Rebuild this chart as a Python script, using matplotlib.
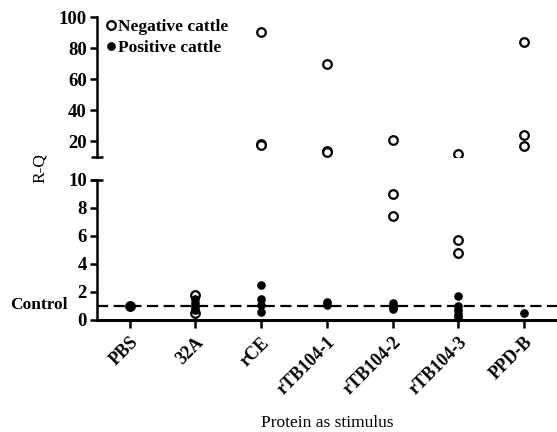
import numpy as np
import matplotlib
matplotlib.use("Agg")
from matplotlib import pyplot as plt

plt.rcParams['font.family'] = ['Liberation Serif', 'DejaVu Serif']

# proteins used as stimulus
proteins = ['PBS', '32A', 'rCE', 'rTB104-1', 'rTB104-2', 'rTB104-3', 'PPD-B']

# R-Q values, per protein
neg_vals = [[1.0], [1.8, 0.5], [90.5, 18.5, 17.5], [70, 14, 13],
            [21, 9.0, 7.4], [12, 5.7, 4.8], [84, 24, 17]]
pos_vals = [[1.0], [1.5, 1.2, 0.9, 0.7], [2.5, 1.5, 1.1, 0.6], [1.3, 1.1],
            [1.2, 1.0, 0.9, 0.8], [1.7, 1.0, 0.7, 0.4, 0.2], [0.5]]

control = 1.0
brk = 10  # axis break value

W, H = 557, 432
fig = plt.figure(figsize=(W / 100, H / 100), dpi=100)
left = 96.7 / W
ax_top = fig.add_axes([left, 1 - 157 / H, 1 - left, (157 - 17) / H])
ax_bot = fig.add_axes([left, 1 - 320 / H, 1 - left, (320 - 180) / H])


def flat(vals, keep):
    xs = [i for i, v in enumerate(vals) for y in v if keep(y)]
    ys = [y for v in vals for y in v if keep(y)]
    return xs, ys


for ax, keep in ((ax_top, lambda y: y >= brk), (ax_bot, lambda y: y < brk)):
    xn, yn = flat(neg_vals, keep)
    xp, yp = flat(pos_vals, keep)
    ax.plot(xn, yn, 'o', mfc='white', mec='black', mew=1.6, ms=6.2,
            ls='none', label='Negative cattle', zorder=3)
    ax.plot(xp, yp, 'o', mfc='black', mec='black', ms=5.2,
            ls='none', label='Positive cattle', zorder=4)
    ax.set_xlim(-0.5, 6.5)
    for s in ('top', 'right'):
        ax.spines[s].set_visible(False)
    ax.spines['left'].set_linewidth(1.8)
    ax.tick_params(axis='y', direction='out', length=5, width=1.8, pad=2)

ax_top.set_ylim(brk, 100)
ax_top.set_yticks([20, 40, 60, 80, 100])
ax_top.set_yticklabels(['20', '40', '60', '80', '100'], fontweight='bold',
                       fontsize=13.5)
ax_top.spines['bottom'].set_visible(False)
ax_top.set_xticks([])
ax_top.plot([0], [0], marker='_', ms=9, mew=1.8, color='black',
            transform=ax_top.transAxes, clip_on=False)

ax_bot.set_ylim(0, brk)
ax_bot.set_yticks([0, 2, 4, 6, 8, 10])
ax_bot.set_yticklabels(['0', '2', '4', '6', '8', '10'], fontweight='bold',
                       fontsize=13.5)
ax_bot.spines['bottom'].set_linewidth(2.2)
ax_bot.plot([0], [1], marker='_', ms=9, mew=1.8, color='black',
            transform=ax_bot.transAxes, clip_on=False)
ax_bot.set_xticks(range(len(proteins)))
ax_bot.set_xticklabels(proteins, rotation=45, ha='right', va='top',
                       rotation_mode='anchor', fontsize=13, fontweight='bold')
ax_bot.tick_params(axis='x', direction='out', length=6, width=1.8, pad=4)
ax_bot.axhline(control, color='black', ls=(0, (5, 2.5)), lw=1.6, zorder=2)
ax_bot.set_xlabel('Protein as stimulus', fontsize=12.5, labelpad=12)

leg = ax_top.legend(loc='upper left', bbox_to_anchor=(0.0, 1.06), frameon=False,
                    handlelength=0.4, handletextpad=0.2, borderaxespad=0.2,
                    labelspacing=0.25, prop={'size': 12.5, 'weight': 'bold'})

fig.text(40 / W, 1 - 168 / H, 'R-Q', rotation=90, ha='center', va='center',
         fontsize=12.5)
fig.text(10 / W, 1 - 305 / H, 'Control', ha='left', va='center',
         fontsize=12.5, fontweight='bold')

fig.savefig('out.png', dpi=100)
